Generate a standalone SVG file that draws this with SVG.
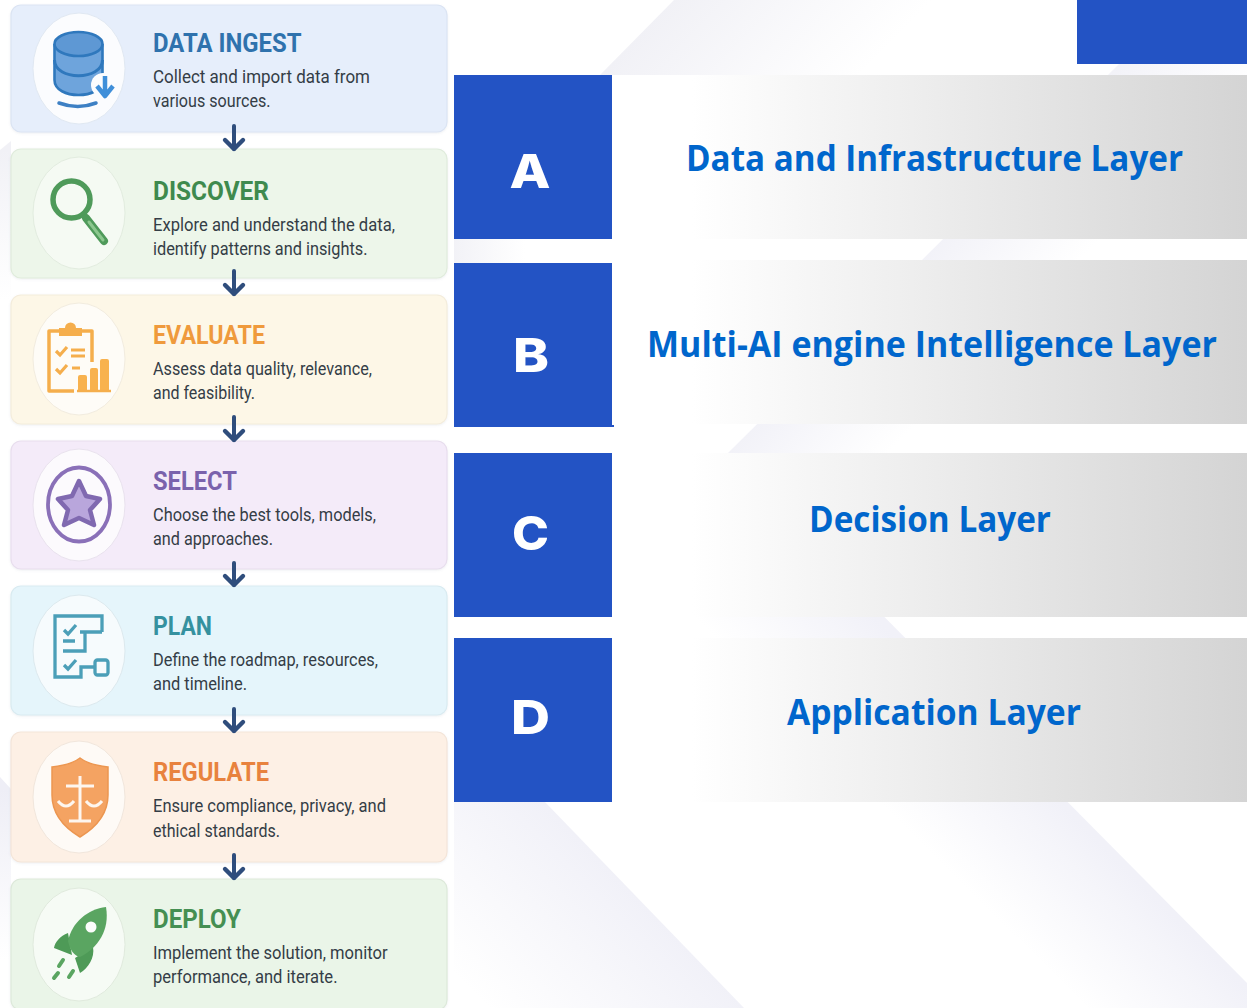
<svg xmlns="http://www.w3.org/2000/svg" width="1247" height="1008" viewBox="0 0 1247 1008">
<style>
.card{stroke-width:1.2;filter:url(#sh)}
.disc{stroke-width:1}
.t{font:700 26px Roboto,"Liberation Sans",sans-serif}
.d{font:400 18px Roboto,"Liberation Sans",sans-serif;fill:#343d46}
.lab{font:700 31px "Open Sans","Liberation Sans",sans-serif;fill:#0066cc}
.let{font:800 47px Inter,"Liberation Sans",sans-serif;fill:#fff}
.blue{fill:#2353c4}
.arrow{fill:none;stroke:#2f4d7c;stroke-width:4;stroke-linecap:round;marker-end:url(#head)}
</style>
<defs>
<filter id="sh" x="-2%" y="-5%" width="104%" height="112%"><feDropShadow dx="0" dy="1" stdDeviation="1" flood-color="#8090a0" flood-opacity=".14"/></filter>
<marker id="head" markerUnits="userSpaceOnUse" markerWidth="26" markerHeight="20" refX="13" refY="15" orient="auto-start-reverse" viewBox="0 0 26 20" overflow="visible"><path d="M13 15 L22 6 M13 15 L4 6" transform="rotate(-90 13 15)" fill="none" stroke="#2f4d7c" stroke-width="4.4" stroke-linecap="round"/></marker>
<linearGradient id="strip" gradientUnits="userSpaceOnUse" x1="692" y1="0" x2="1247" y2="0"><stop offset="0" stop-color="#fff"/><stop offset="1" stop-color="#d4d4d4"/></linearGradient>
<linearGradient id="bgA" gradientUnits="userSpaceOnUse" x1="919" y1="260" x2="1000" y2="340"><stop offset="0" stop-color="#f2f2f8"/><stop offset="1" stop-color="#f2f2f8" stop-opacity="0"/></linearGradient>
<linearGradient id="bgB" gradientUnits="userSpaceOnUse" x1="600" y1="75" x2="735" y2="205"><stop offset="0" stop-color="#f1f1f6"/><stop offset="1" stop-color="#f1f1f6" stop-opacity="0"/></linearGradient>
<linearGradient id="bgB2" gradientUnits="userSpaceOnUse" x1="447" y1="0" x2="525" y2="0"><stop offset="0" stop-color="#f1f1f6"/><stop offset="1" stop-color="#f1f1f6" stop-opacity="0"/></linearGradient>
<linearGradient id="bgC" gradientUnits="userSpaceOnUse" x1="1060" y1="802" x2="970" y2="892"><stop offset="0" stop-color="#f1f1f8"/><stop offset="1" stop-color="#f1f1f8" stop-opacity="0"/></linearGradient>
<linearGradient id="bgD" gradientUnits="userSpaceOnUse" x1="640" y1="900" x2="510" y2="1030"><stop offset="0" stop-color="#f1f1f8"/><stop offset="1" stop-color="#f1f1f8" stop-opacity="0"/></linearGradient>
<linearGradient id="bgE" gradientUnits="userSpaceOnUse" x1="0" y1="150" x2="0" y2="300"><stop offset="0" stop-color="#f1f1f6"/><stop offset="1" stop-color="#f1f1f6" stop-opacity="0"/></linearGradient>
<linearGradient id="bgF" gradientUnits="userSpaceOnUse" x1="11" y1="790" x2="0" y2="960"><stop offset="0" stop-color="#eeeef6"/><stop offset="1" stop-color="#eeeef6" stop-opacity="0"/></linearGradient>
</defs>
<rect width="1247" height="1008" fill="#fff"/>
<g id="background">
<polygon points="674,0 600,75 1000,75 1000,0" fill="url(#bgB)"/>
<rect x="454" y="239" width="80" height="24" fill="url(#bgB2)"/>
<polygon points="1119,64 728,453 1000,600 1247,500 1247,64" fill="url(#bgA)"/>
<polygon points="722,453 1247,983 1247,1008 800,1008 560,620" fill="url(#bgC)"/>
<polygon points="545,802 744,1008 454,1008 454,802" fill="url(#bgD)"/>
<polygon points="11,141 0,150 0,300 11,300" fill="url(#bgE)"/>
<polygon points="0,777 11,789 11,960 0,960" fill="url(#bgF)"/>
</g>
<g id="node-data-ingest">
<rect class="card" x="11" y="5" width="436" height="127" rx="10" fill="#e6eefb" stroke="#dbe4f3"/>
<ellipse class="disc" cx="79" cy="68.500" rx="46" ry="55.500" fill="#fbfcfe" stroke="#e0e8f2"/>
<path d="M54.500 44 V80 C54.500 100,102.500 100,102.500 80 V44" fill="#6ea4dc" stroke="#2f78bd" stroke-width="2.600"/>
<path d="M54.500 60 C54.500 81,102.500 81,102.500 60" fill="none" stroke="#2f78bd" stroke-width="3"/>
<ellipse cx="78.500" cy="44" rx="24" ry="12" fill="#5e98d4" stroke="#2f78bd" stroke-width="2.600"/>
<circle cx="103" cy="85" r="12" fill="#fbfcfe"/>
<path d="M105 76 V94 M97 86 L105 96 L113 86" fill="none" stroke="#3f8fd9" stroke-width="4.500" stroke-linejoin="round"/>
<path d="M59 103 Q78 110 96 103" fill="none" stroke="#3d80c4" stroke-width="3.500" stroke-linecap="round"/>
<text class="t" x="153" y="52" fill="#2f72ad" textLength="148.500" lengthAdjust="spacingAndGlyphs">DATA INGEST</text>
<text class="d" x="153" y="83" textLength="217" lengthAdjust="spacingAndGlyphs">Collect and import data from</text>
<text class="d" x="153" y="107" textLength="117.500" lengthAdjust="spacingAndGlyphs">various sources.</text>
</g>
<g id="node-discover">
<rect class="card" x="11" y="149" width="436" height="129" rx="10" fill="#edf6ea" stroke="#e0ecdc"/>
<ellipse class="disc" cx="79" cy="213" rx="46" ry="56" fill="#f5faf3" stroke="#e2ecdf"/>
<circle cx="71.500" cy="199.500" r="18.500" fill="#f5faf3" stroke="#4f9a5a" stroke-width="5.500"/>
<path d="M86 218 L104 241" stroke="#4f9a5a" stroke-width="8" stroke-linecap="round"/>
<path d="M89 222 L103 240" stroke="#8cc78e" stroke-width="3" stroke-linecap="round"/>
<text class="t" x="153" y="200" fill="#3f8a4e" textLength="116" lengthAdjust="spacingAndGlyphs">DISCOVER</text>
<text class="d" x="153" y="231" textLength="242" lengthAdjust="spacingAndGlyphs">Explore and understand the data,</text>
<text class="d" x="153" y="255" textLength="214.500" lengthAdjust="spacingAndGlyphs">identify patterns and insights.</text>
</g>
<g id="node-evaluate">
<rect class="card" x="11" y="295" width="436" height="129" rx="10" fill="#fdf7e7" stroke="#f4eddc"/>
<ellipse class="disc" cx="79" cy="359" rx="46" ry="56" fill="#fefcf7" stroke="#f2ecdf"/>
<path d="M74 391 H49 V331 H92 V362" fill="none" stroke="#f5ae4c" stroke-width="3.500" stroke-linejoin="round"/>
<path d="M59 336 V328 H65 A5.500 5.500 0 0 1 76 328 H82 V336 Z" fill="#f5ae4c"/>
<path d="M56 351 L60 355 L67 347 M56 369 L60 373 L67 365" fill="none" stroke="#f5ae4c" stroke-width="3.200"/>
<path d="M71 350 H85 M71 356 H85 M72 368 H80" stroke="#f5ae4c" stroke-width="2.800"/>
<path d="M78 390 V377 Q78 375 80 375 H85 Q87 375 87 377 V390 Z M90 390 V370 Q90 368 92 368 H96 Q98 368 98 370 V390 Z M100 390 V361 Q100 359 102 359 H107 Q109 359 109 361 V390 Z" fill="#f8b24e"/>
<path d="M77 391 H111" stroke="#f5ae4c" stroke-width="2.500"/>
<text class="t" x="153" y="344" fill="#ef9a3c" textLength="112" lengthAdjust="spacingAndGlyphs">EVALUATE</text>
<text class="d" x="153" y="375" textLength="219" lengthAdjust="spacingAndGlyphs">Assess data quality, relevance,</text>
<text class="d" x="153" y="399" textLength="102" lengthAdjust="spacingAndGlyphs">and feasibility.</text>
</g>
<g id="node-select">
<rect class="card" x="11" y="441" width="436" height="128" rx="10" fill="#f4ebf9" stroke="#e8deee"/>
<ellipse class="disc" cx="79" cy="505" rx="46" ry="56" fill="#fcfafd" stroke="#e9e2ee"/>
<ellipse cx="79" cy="504.500" rx="31" ry="37" fill="none" stroke="#8a70b8" stroke-width="3.800"/>
<polygon points="79,481 86,496 100,499 90,510 94,525 79,518 64,525 68,510 58,499 72,496" fill="#b9a6dc" stroke="#8069b0" stroke-width="4.500" stroke-linejoin="round"/>
<text class="t" x="153" y="490" fill="#7a62ac" textLength="84" lengthAdjust="spacingAndGlyphs">SELECT</text>
<text class="d" x="153" y="521" textLength="223" lengthAdjust="spacingAndGlyphs">Choose the best tools, models,</text>
<text class="d" x="153" y="545" textLength="120" lengthAdjust="spacingAndGlyphs">and approaches.</text>
</g>
<g id="node-plan">
<rect class="card" x="11" y="586" width="436" height="129" rx="10" fill="#e5f5fb" stroke="#d9ebf1"/>
<ellipse class="disc" cx="79" cy="651" rx="46" ry="56" fill="#f6fbfd" stroke="#dce9ee"/>
<g fill="none" stroke="#4b9fb8" stroke-width="3.300">
<path d="M102 632 V616 H55 V677 H81 V667 H95"/>
<path d="M102 632 H80 M85 632 V651 H63 M63 641 H75"/>
<path d="M64 630 L68 634 L76 625 M64 665 L68 669 L76 660"/>
<rect x="95" y="660" width="13" height="15" rx="2.500"/>
</g>
<text class="t" x="153" y="635" fill="#35919f" textLength="59" lengthAdjust="spacingAndGlyphs">PLAN</text>
<text class="d" x="153" y="666" textLength="225" lengthAdjust="spacingAndGlyphs">Define the roadmap, resources,</text>
<text class="d" x="153" y="690" textLength="94" lengthAdjust="spacingAndGlyphs">and timeline.</text>
</g>
<g id="node-regulate">
<rect class="card" x="11" y="732" width="436" height="130" rx="10" fill="#fdf0e5" stroke="#f4e5d9"/>
<ellipse class="disc" cx="79" cy="797" rx="46" ry="56" fill="#fefaf6" stroke="#f1e6dc"/>
<path d="M80 758 C88 764,98 766,108 767 V795 C108 815,95 828,80 837 C65 828,52 815,52 795 V767 C62 766,72 764,80 758Z" fill="#f4a362" stroke="#ec9650" stroke-width="1.500"/>
<g fill="none" stroke="#fdf6ef" stroke-width="3">
<path d="M80 776 V820 M69 821 H91 M66 786 H94"/>
<path d="M58 801 Q66 811 74 801 M86 801 Q94 811 102 801"/>
</g>
<text class="t" x="153" y="781" fill="#e8823e" textLength="116" lengthAdjust="spacingAndGlyphs">REGULATE</text>
<text class="d" x="153" y="812" textLength="233" lengthAdjust="spacingAndGlyphs">Ensure compliance, privacy, and</text>
<text class="d" x="153" y="837" textLength="127" lengthAdjust="spacingAndGlyphs">ethical standards.</text>
</g>
<g id="node-deploy">
<rect class="card" x="11" y="879" width="436" height="131" rx="10" fill="#eaf5e8" stroke="#dde9da"/>
<ellipse class="disc" cx="79" cy="944.500" rx="46" ry="56.500" fill="#f6fbf5" stroke="#e0eadd"/>
<path d="M68 933 C60 936,55 942,54 948 L72 955 Z M93 947 C95 958,88 968,80 973 L75 958 Z" fill="#4e9a57"/>
<path d="M106 907 C88 909,72 922,68 941 C70 950,74 956,80 957 C98 948,110 930,106 907 Z" fill="#5aa561"/>
<circle cx="91" cy="927" r="5.500" fill="#fbfdfb"/>
<path d="M54 978 L58 973 M59 966 L63 960 M69 977 L73 971" stroke="#5aa561" stroke-width="4" stroke-linecap="round"/>
<text class="t" x="153" y="928" fill="#458f52" textLength="88" lengthAdjust="spacingAndGlyphs">DEPLOY</text>
<text class="d" x="153" y="959" textLength="234.500" lengthAdjust="spacingAndGlyphs">Implement the solution, monitor</text>
<text class="d" x="153" y="983" textLength="184.500" lengthAdjust="spacingAndGlyphs">performance, and iterate.</text>
</g>
<g id="connectors">
<path class="arrow" d="M234 126 V149"/>
<path class="arrow" d="M234 271 V294"/>
<path class="arrow" d="M234 417 V440"/>
<path class="arrow" d="M234 563 V585"/>
<path class="arrow" d="M234 709 V731"/>
<path class="arrow" d="M234 855 V878"/>
</g>
<g id="corner-block"><rect class="blue" x="1077" y="0" width="170" height="64"/></g>
<g id="layer-a">
<rect x="612" y="75" width="635" height="164" fill="url(#strip)"/>
<rect class="blue" x="454" y="75" width="158" height="164"/>
<text class="let" x="509.500" y="188" textLength="41" lengthAdjust="spacingAndGlyphs">A</text>
<text class="lab" transform="translate(686 171) scale(1 1.16)" textLength="497" lengthAdjust="spacingAndGlyphs">Data and Infrastructure Layer</text>
</g>
<g id="layer-b">
<rect x="612" y="260" width="635" height="164" fill="url(#strip)"/>
<rect class="blue" x="454" y="263" width="158" height="164"/>
<rect class="blue" x="612" y="425" width="2" height="2"/>
<text class="let" x="513" y="372" textLength="36" lengthAdjust="spacingAndGlyphs">B</text>
<text class="lab" transform="translate(647 357) scale(1 1.16)" textLength="570" lengthAdjust="spacingAndGlyphs">Multi-AI engine Intelligence Layer</text>
</g>
<g id="layer-c">
<rect x="612" y="453" width="635" height="164" fill="url(#strip)"/>
<rect class="blue" x="454" y="453" width="158" height="164"/>
<text class="let" x="512" y="550" textLength="37" lengthAdjust="spacingAndGlyphs">C</text>
<text class="lab" transform="translate(809 532) scale(1 1.16)" textLength="242" lengthAdjust="spacingAndGlyphs">Decision Layer</text>
</g>
<g id="layer-d">
<rect x="612" y="638" width="635" height="164" fill="url(#strip)"/>
<rect class="blue" x="454" y="638" width="158" height="164"/>
<text class="let" x="511" y="734" textLength="39" lengthAdjust="spacingAndGlyphs">D</text>
<text class="lab" transform="translate(787 725) scale(1 1.16)" textLength="294" lengthAdjust="spacingAndGlyphs">Application Layer</text>
</g>
</svg>
